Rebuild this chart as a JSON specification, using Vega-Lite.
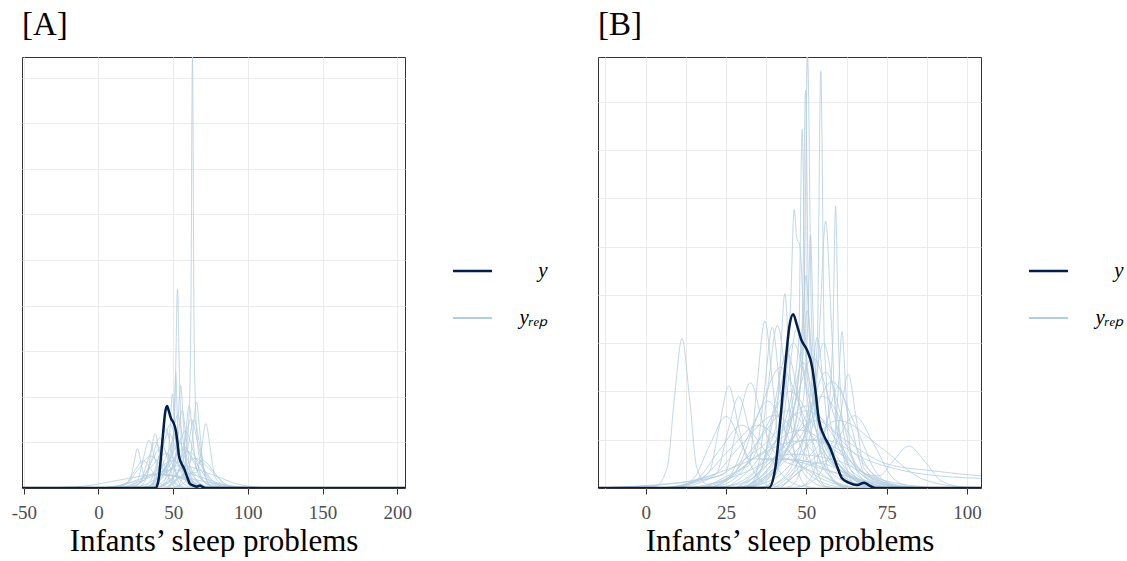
{
  "$schema": "https://vega.github.io/schema/vega-lite/v6.json",
  "padding": {"left": 10, "top": 8, "right": 0, "bottom": 0},
  "spacing": 48,
  "datasets": {
    "obs": [
      {"type": "y", "g": "y",
       "x": [-60,36,38.3,40.4,41.9,43.5,44.7,45.9,47.1,48.5,50.2,51.8,52.8,53.9,55.4,57.5,59.6,61.1,63.2,65.8,68,69.4,71.5,75,210],
       "d": [0,0,0,0.0044,0.0141,0.0258,0.0334,0.036,0.0337,0.0306,0.0286,0.0251,0.0203,0.0141,0.011,0.0082,0.0044,0.002,0.0011,0.0006,0.0011,0.0006,0,0,0]}
    ],
    "repA": [
      {"type": "yrep", "g": "a1", "x": [40,52,58,60.5,61.8,62.9,64,65.3,68,75,88], "d": [0,0.006,0.015,0.03,0.07,0.189,0.07,0.03,0.012,0.004,0]},
      {"type": "yrep", "g": "a2", "x": [35,45,50,51.6,52.9,54.2,56,62,75], "d": [0,0.008,0.02,0.05,0.0872,0.05,0.015,0.005,0]},
      {"type": "yrep", "g": "a3", "x": [33,44,49.5,50.8,51.8,52.8,55,62,72], "d": [0,0.008,0.015,0.03,0.0508,0.03,0.012,0.004,0]},
      {"type": "yrep", "g": "a4", "x": [30,42,46.5,47.8,49.5,51.2,53.5,60,72], "d": [0,0.006,0.012,0.025,0.0413,0.025,0.01,0.003,0]},
      {"type": "yrep", "g": "a5", "x": [40,50,56,58.2,60.7,63.2,65.7,72,82], "d": [0,0.005,0.01,0.022,0.0362,0.022,0.008,0.002,0]},
      {"type": "yrep", "g": "a6", "x": [45,55,61,63.1,65.6,68.1,70.6,77,88], "d": [0,0.005,0.01,0.023,0.0377,0.023,0.008,0.002,0]},
      {"type": "yrep", "g": "a7", "x": [45,58,66,68.9,71.9,74.9,77.9,85,95], "d": [0,0.006,0.007,0.017,0.0283,0.017,0.005,0.001,0]},
      {"type": "yrep", "g": "a8", "x": [5,18,21.1,23.6,26.1,28.6,31.1,40,55,70], "d": [0,0.002,0.0035,0.0105,0.0173,0.0105,0.004,0.006,0.005,0]},
      {"type": "yrep", "g": "a9", "x": [15,28,31.9,34.9,37.9,40.9,43.9,52,68], "d": [0,0.003,0.004,0.0145,0.0239,0.0145,0.006,0.005,0]},
      {"type": "yrep", "g": "a10", "x": [10,22,25.9,29.9,33.9,37.9,41.9,52,70], "d": [0,0.0025,0.003,0.0127,0.021,0.0127,0.006,0.005,0]},
      {"type": "yrep", "g": "a11", "x": [5,15,25,35,45,55,65,75,85], "d": [0,0.0002,0.002,0.0091,0.015,0.0091,0.002,0.0002,0]},
      {"type": "yrep", "g": "a12", "x": [23,31,39,47,55,63,71,79,87], "d": [0,0.0002,0.0027,0.0121,0.02,0.0121,0.0027,0.0002,0]},
      {"type": "yrep", "g": "a13", "x": [2,14,26,38,50,62,74,86,98], "d": [0,0.0001,0.0016,0.0073,0.012,0.0073,0.0016,0.0001,0]},
      {"type": "yrep", "g": "a14", "x": [34,40,46,52,58,64,70,76,82], "d": [0,0.0003,0.0034,0.0152,0.025,0.0152,0.0034,0.0003,0]},
      {"type": "yrep", "g": "a15", "x": [14,21,28,35,42,49,56,63,70], "d": [0,0.0002,0.0024,0.0109,0.018,0.0109,0.0024,0.0002,0]},
      {"type": "yrep", "g": "a16", "x": [24,33,42,51,60,69,78,87,96], "d": [0,0.0002,0.0022,0.0097,0.016,0.0097,0.0022,0.0002,0]},
      {"type": "yrep", "g": "a17", "x": [3,11,19,27,35,43,51,59,67], "d": [0,0.0002,0.0019,0.0085,0.014,0.0085,0.0019,0.0002,0]},
      {"type": "yrep", "g": "a18", "x": [28,33,38,43,48,53,58,63,68], "d": [0,0.0003,0.0038,0.017,0.028,0.017,0.0038,0.0003,0]},
      {"type": "yrep", "g": "a19", "x": [37,41,45,49,53,57,61,65,69], "d": [0,0.0004,0.0043,0.0194,0.032,0.0194,0.0043,0.0004,0]},
      {"type": "yrep", "g": "a20", "x": [-50,-35,-10,15,40,65,90,115,140], "d": [0,0.0001,0.0008,0.0036,0.006,0.0036,0.0008,0.0001,0]},
      {"type": "yrep", "g": "a21", "x": [25,35,45,55,65,75,85,95,105], "d": [0,0.0001,0.0018,0.0079,0.013,0.0079,0.0018,0.0001,0]},
      {"type": "yrep", "g": "a22", "x": [6,12,18,24,30,36,42,48,54], "d": [0,0.0001,0.0016,0.0073,0.012,0.0073,0.0016,0.0001,0]},
      {"type": "yrep", "g": "a23", "x": [44,47,50,53,56,59,62,65,68], "d": [0,0.0004,0.0046,0.0206,0.034,0.0206,0.0046,0.0004,0]},
      {"type": "yrep", "g": "a24", "x": [29,33,37,41,45,49,53,57,61], "d": [0,0.0003,0.0035,0.0158,0.026,0.0158,0.0035,0.0003,0]},
      {"type": "yrep", "g": "a25", "x": [42,49,56,63,70,77,84,91,98], "d": [0,0.0001,0.0016,0.0073,0.012,0.0073,0.0016,0.0001,0]},
      {"type": "yrep", "g": "a26", "x": [-22,-4,14,32,50,68,86,104,122], "d": [0,0.0001,0.0011,0.0049,0.008,0.0049,0.0011,0.0001,0]},
      {"type": "yrep", "g": "a27", "x": [42,47,52,57,62,67,72,77,82], "d": [0,0.0003,0.0041,0.0182,0.03,0.0182,0.0041,0.0003,0]},
      {"type": "yrep", "g": "a28", "x": [24,31,38,45,52,59,66,73,80], "d": [0,0.0002,0.003,0.0134,0.022,0.0134,0.003,0.0002,0]},
      {"type": "yrep", "g": "a29", "x": [7,19,31,43,55,75,95,115,135], "d": [0,0.0001,0.0014,0.0061,0.01,0.0061,0.0014,0.0001,0]},
      {"type": "yrep", "g": "a30", "x": [18,23,28,33,38,43,48,53,58], "d": [0,0.0002,0.0027,0.0121,0.02,0.0121,0.0027,0.0002,0]},
      {"type": "yrep", "g": "a31", "x": [23,29,35,41,47,53,59,65,71], "d": [0,0.0003,0.0032,0.0146,0.024,0.0146,0.0032,0.0003,0]},
      {"type": "yrep", "g": "a32", "x": [21,30,39,48,57,66,75,84,93], "d": [0,0.0002,0.0023,0.0103,0.017,0.0103,0.0023,0.0002,0]},
      {"type": "yrep", "g": "a33", "x": [48,52,56,60,64,68,72,76,80], "d": [0,0.0003,0.0041,0.0182,0.03,0.0182,0.0041,0.0003,0]},
      {"type": "yrep", "g": "a34", "x": [21,26,31,36,41,46,51,56,61], "d": [0,0.0002,0.003,0.0134,0.022,0.0134,0.003,0.0002,0]},
      {"type": "yrep", "g": "a35", "x": [35,45,51.5,53,55,57,58.5,65,75], "d": [0,0.006,0.012,0.027,0.045,0.027,0.012,0.004,0]}
    ],
    "repB": [
      {"type": "yrep", "g": "b1", "x": [-15,3,6.7,9,11.3,13.6,15.9,19,30,45,58,72,90], "d": [0,0.0003,0.0042,0.019,0.031,0.019,0.0042,0.0008,0.003,0.007,0.006,0.002,0]},
      {"type": "yrep", "g": "b2", "x": [30,42,47,49.2,50.4,51.6,54,60,72], "d": [0,0.006,0.015,0.035,0.0893,0.035,0.014,0.006,0]},
      {"type": "yrep", "g": "b3", "x": [32,45,51,53.4,54.5,55.6,58,65,78], "d": [0,0.008,0.015,0.03,0.0864,0.03,0.012,0.004,0]},
      {"type": "yrep", "g": "b4", "x": [30,40,46,48.7,49.75,50.8,53,60,75], "d": [0,0.006,0.016,0.033,0.0824,0.033,0.016,0.005,0]},
      {"type": "yrep", "g": "b5", "x": [28,38,45,47.6,48.7,49.8,52,58,70], "d": [0,0.007,0.018,0.03,0.0743,0.03,0.018,0.007,0]},
      {"type": "yrep", "g": "b6", "x": [28,38,43,45.2,46.2,47,48,49.5,53,60,72], "d": [0,0.006,0.018,0.04,0.0577,0.052,0.05,0.03,0.012,0.004,0]},
      {"type": "yrep", "g": "b7", "x": [40,50,56,58.2,59.1,60,62,68,80], "d": [0,0.006,0.012,0.03,0.0584,0.03,0.01,0.003,0]},
      {"type": "yrep", "g": "b8", "x": [38,48,52.5,54.2,56,57.8,59.5,65,76], "d": [0,0.006,0.015,0.034,0.0553,0.034,0.012,0.003,0]},
      {"type": "yrep", "g": "b9", "x": [32,44,49,50.5,51.3,52.1,54,60,72], "d": [0,0.008,0.018,0.035,0.0524,0.035,0.015,0.005,0]},
      {"type": "yrep", "g": "b10", "x": [30,42,47,49,49.9,50.8,53,59,70], "d": [0,0.008,0.02,0.035,0.044,0.035,0.018,0.006,0]},
      {"type": "yrep", "g": "b11", "x": [25,35,40.3,41.8,43.3,44.8,46.5,53,65], "d": [0,0.006,0.012,0.025,0.0403,0.025,0.012,0.004,0]},
      {"type": "yrep", "g": "b12", "x": [18,30,32.1,34.6,37.1,39.6,42.1,50,62], "d": [0,0.004,0.0047,0.021,0.0346,0.021,0.006,0.004,0]},
      {"type": "yrep", "g": "b13", "x": [42,52,58.6,59.9,61.1,62.3,64,70,80], "d": [0,0.006,0.01,0.02,0.0324,0.02,0.007,0.002,0]},
      {"type": "yrep", "g": "b14", "x": [30,40,46.3,48.3,50.3,52.3,54.3,62,72], "d": [0,0.005,0.012,0.022,0.0367,0.022,0.008,0.003,0]},
      {"type": "yrep", "g": "b15", "x": [33,44,49,51.2,53.4,55.6,57.8,65,75], "d": [0,0.006,0.01,0.019,0.0312,0.019,0.006,0.002,0]},
      {"type": "yrep", "g": "b16", "x": [20,30,34.4,36.9,39.4,41.9,44.4,52,65], "d": [0,0.004,0.0075,0.02,0.0333,0.02,0.008,0.003,0]},
      {"type": "yrep", "g": "b17", "x": [42,52,58,60.5,63,65.5,68,75,85], "d": [0,0.005,0.006,0.0145,0.0236,0.0145,0.004,0.001,0]},
      {"type": "yrep", "g": "b18", "x": [5,17,19.9,22.9,25.9,28.9,31.9,40,55,70], "d": [0,0.002,0.0035,0.0128,0.0211,0.0128,0.006,0.006,0.005,0]},
      {"type": "yrep", "g": "b19", "x": [8,18,22,25.5,29,32.5,36,45,60,75], "d": [0,0.002,0.003,0.0115,0.0189,0.0115,0.006,0.006,0.003,0]},
      {"type": "yrep", "g": "b20", "x": [8,20,24.6,28.6,32.6,36.6,40.6,50,65,80], "d": [0,0.002,0.003,0.0132,0.0218,0.0132,0.007,0.005,0.002,0]},
      {"type": "yrep", "g": "b21", "x": [30,40,50,60,68,72.5,76.9,81.9,86.9,91.9,100], "d": [0,0.006,0.01,0.008,0.003,0.0025,0.0055,0.0087,0.0055,0.0015,0]},
      {"type": "yrep", "g": "b22", "x": [13,21,29,37,45,53,61,69,77], "d": [0,0.0002,0.0027,0.0121,0.02,0.0121,0.0027,0.0002,0]},
      {"type": "yrep", "g": "b23", "x": [14,23,32,41,50,59,68,77,86], "d": [0,0.0002,0.0023,0.0103,0.017,0.0103,0.0023,0.0002,0]},
      {"type": "yrep", "g": "b24", "x": [0,10,20,30,40,50,60,70,80], "d": [0,0.0002,0.002,0.0091,0.015,0.0091,0.002,0.0002,0]},
      {"type": "yrep", "g": "b25", "x": [23,31,39,47,55,63,71,79,87], "d": [0,0.0002,0.0026,0.0115,0.019,0.0115,0.0026,0.0002,0]},
      {"type": "yrep", "g": "b26", "x": [0,12,24,36,48,60,72,84,96], "d": [0,0.0001,0.0016,0.0073,0.012,0.0073,0.0016,0.0001,0]},
      {"type": "yrep", "g": "b27", "x": [14,21,28,35,42,49,56,63,70], "d": [0,0.0003,0.0034,0.0152,0.025,0.0152,0.0034,0.0003,0]},
      {"type": "yrep", "g": "b28", "x": [30,37,44,51,58,65,72,79,86], "d": [0,0.0002,0.003,0.0134,0.022,0.0134,0.003,0.0002,0]},
      {"type": "yrep", "g": "b29", "x": [-1,8,17,26,35,44,53,62,71], "d": [0,0.0001,0.0018,0.0079,0.013,0.0079,0.0018,0.0001,0]},
      {"type": "yrep", "g": "b30", "x": [28,34,40,46,52,58,64,70,76], "d": [0,0.0003,0.0036,0.0164,0.027,0.0164,0.0036,0.0003,0]},
      {"type": "yrep", "g": "b31", "x": [26,31,36,41,46,51,56,61,66], "d": [0,0.0003,0.0041,0.0182,0.03,0.0182,0.0041,0.0003,0]},
      {"type": "yrep", "g": "b32", "x": [20,30,40,50,60,73,86,99,104.4], "d": [0,0.0002,0.0019,0.0085,0.014,0.0085,0.0019,0.0002,0.0001]},
      {"type": "yrep", "g": "b33", "x": [-15,10,30,45,55,70,85,104.4], "d": [0,0.001,0.005,0.0095,0.01,0.0055,0.003,0.002]},
      {"type": "yrep", "g": "b34", "x": [-15,20,35,50,62,75,90,104.4], "d": [0,0.002,0.008,0.016,0.01,0.005,0.0035,0.0025]},
      {"type": "yrep", "g": "b35", "x": [28,32,36,40,44,48,52,56,60], "d": [0,0.0003,0.0038,0.017,0.028,0.017,0.0038,0.0003,0]},
      {"type": "yrep", "g": "b36", "x": [36,41,46,51,56,61,66,71,76], "d": [0,0.0003,0.0032,0.0146,0.024,0.0146,0.0032,0.0003,0]},
      {"type": "yrep", "g": "b37", "x": [14,20,26,32,38,44,50,56,62], "d": [0,0.0002,0.0024,0.0109,0.018,0.0109,0.0024,0.0002,0]},
      {"type": "yrep", "g": "b38", "x": [41,47,53,59,65,71,77,83,89], "d": [0,0.0002,0.002,0.0091,0.015,0.0091,0.002,0.0002,0]},
      {"type": "yrep", "g": "b39", "x": [35,38,41,44,47,50,53,56,59], "d": [0,0.0004,0.0045,0.02,0.033,0.02,0.0045,0.0004,0]},
      {"type": "yrep", "g": "b40", "x": [29,32,35,38,41,44,47,50,53], "d": [0,0.0004,0.0045,0.0205,0.0337,0.0205,0.0045,0.0004,0]},
      {"type": "yrep", "g": "b41", "x": [41.4,44.9,48.4,51.9,55.4,58.9,62.4,65.9,69.4], "d": [0,0.0003,0.0041,0.0182,0.03,0.0182,0.0041,0.0003,0]},
      {"type": "yrep", "g": "b42", "x": [5,10,15,20,25,30,35,40,45], "d": [0,0.0002,0.002,0.009,0.0148,0.009,0.002,0.0002,0]},
      {"type": "yrep", "g": "b43", "x": [2,9,16,23,30,37,44,51,58], "d": [0,0.0001,0.0018,0.0079,0.013,0.0079,0.0018,0.0001,0]},
      {"type": "yrep", "g": "b44", "x": [8,17,26,35,44,53,62,71,80], "d": [0,0.0002,0.0022,0.0097,0.016,0.0097,0.0022,0.0002,0]},
      {"type": "yrep", "g": "b45", "x": [13,23,33,43,53,63,73,83,93], "d": [0,0.0002,0.0019,0.0085,0.014,0.0085,0.0019,0.0002,0]},
      {"type": "yrep", "g": "b46", "x": [33,37,41,45,49,53,57,61,65], "d": [0,0.0003,0.0035,0.0158,0.026,0.0158,0.0035,0.0003,0]},
      {"type": "yrep", "g": "b47", "x": [44,48,52,56,60,64,68,72,76], "d": [0,0.0002,0.0028,0.0127,0.021,0.0127,0.0028,0.0002,0]}
    ]
  },
  "hconcat": [
    {
      "width": 383,
      "height": 431,
      "title": {"text": "[A]"},
      "layer": [
        {
          "data": {"name": "repA"},
          "transform": [{"flatten": ["x", "d"]}],
          "mark": {"type": "line", "interpolate": "monotone", "strokeWidth": 1, "opacity": 0.8, "clip": true},
          "encoding": {
            "x": {"field": "x", "type": "quantitative", "title": "Infants’ sleep problems",
                  "scale": {"domain": [-51.2, 205.2], "nice": false, "zero": false},
                  "axis": {"values": [-50,-25,0,25,50,75,100,125,150,175,200],
                           "labelExpr": "datum.value % 50 === 0 ? '' + datum.value : ''",
                           "tickOpacity": {"condition": {"test": "datum.value % 50 !== 0", "value": 0}, "value": 1},
                           "labelOverlap": false, "labelFlush": false}},
            "y": {"field": "d", "type": "quantitative",
                  "scale": {"domain": [0, 0.189], "nice": false, "zero": false},
                  "axis": {"values": [0.02,0.04,0.06,0.08,0.1,0.12,0.14,0.16,0.18], "labels": false, "ticks": false, "domain": false, "title": null}},
            "color": {"field": "type", "type": "nominal",
                      "scale": {"domain": ["y", "yrep"], "range": ["#011f4b", "#b3cde0"]},
                      "legend": {"orient": "none", "legendX": 440, "legendY": 203.5, "title": null,
                                 "symbolType": "stroke", "symbolSize": 1521, "symbolStrokeWidth": 2.5, "symbolOpacity": 1,
                                 "labelFont": "Liberation Serif", "labelFontSize": 21, "labelFontStyle": "italic", "labelColor": "#000000",
                                 "labelOffset": 64.5, "rowPadding": 25, "labelAlign": "right",
                                 "labelExpr": "datum.label === 'y' ? 'y' : 'y\u1d63\u2091\u209a'",
                                 "encode": {"symbols": {"update": {"strokeWidth": {"signal": "datum.value === 'y' ? 2.7 : 2.2"}, "opacity": {"value": 1}}}}}},
            "detail": {"field": "g"}
          }
        },
        {
          "data": {"name": "obs"},
          "transform": [{"flatten": ["x", "d"]}],
          "mark": {"type": "line", "interpolate": "monotone", "strokeWidth": 2.5, "clip": true},
          "encoding": {
            "x": {"field": "x", "type": "quantitative"},
            "y": {"field": "d", "type": "quantitative"},
            "color": {"field": "type", "type": "nominal"}
          }
        }
      ]
    },
    {
      "width": 383,
      "height": 431,
      "title": {"text": "[B]"},
      "layer": [
        {
          "data": {"name": "repB"},
          "transform": [{"flatten": ["x", "d"]}],
          "mark": {"type": "line", "interpolate": "monotone", "strokeWidth": 1, "opacity": 0.8, "clip": true},
          "encoding": {
            "x": {"field": "x", "type": "quantitative", "title": "Infants’ sleep problems",
                  "scale": {"domain": [-14.83, 104.35], "nice": false, "zero": false},
                  "axis": {"values": [-12.5,0,12.5,25,37.5,50,62.5,75,87.5,100],
                           "labelExpr": "datum.value % 25 === 0 ? '' + datum.value : ''",
                           "tickOpacity": {"condition": {"test": "datum.value % 25 !== 0", "value": 0}, "value": 1},
                           "labelOverlap": false, "labelFlush": false}},
            "y": {"field": "d", "type": "quantitative",
                  "scale": {"domain": [0, 0.0893], "nice": false, "zero": false},
                  "axis": {"values": [0.01,0.02,0.03,0.04,0.05,0.06,0.07,0.08], "labels": false, "ticks": false, "domain": false, "title": null}},
            "color": {"field": "type", "type": "nominal",
                      "scale": {"domain": ["y", "yrep"], "range": ["#011f4b", "#b3cde0"]},
                      "legend": {"orient": "none", "legendX": 440, "legendY": 203.5, "title": null,
                                 "symbolType": "stroke", "symbolSize": 1521, "symbolStrokeWidth": 2.5, "symbolOpacity": 1,
                                 "labelFont": "Liberation Serif", "labelFontSize": 21, "labelFontStyle": "italic", "labelColor": "#000000",
                                 "labelOffset": 64.5, "rowPadding": 25, "labelAlign": "right",
                                 "labelExpr": "datum.label === 'y' ? 'y' : 'y\u1d63\u2091\u209a'",
                                 "encode": {"symbols": {"update": {"strokeWidth": {"signal": "datum.value === 'y' ? 2.7 : 2.2"}, "opacity": {"value": 1}}}}}},
            "detail": {"field": "g"}
          }
        },
        {
          "data": {"name": "obs"},
          "transform": [{"flatten": ["x", "d"]}],
          "mark": {"type": "line", "interpolate": "monotone", "strokeWidth": 2.5, "clip": true},
          "encoding": {
            "x": {"field": "x", "type": "quantitative"},
            "y": {"field": "d", "type": "quantitative"},
            "color": {"field": "type", "type": "nominal"}
          }
        }
      ]
    }
  ],
  "resolve": {"scale": {"color": "independent"}, "legend": {"color": "independent"}},
  "config": {
    "font": "Liberation Serif",
    "background": "#ffffff",
    "view": {"stroke": "#333333", "strokeWidth": 1},
    "axis": {"gridColor": "#ebebeb", "gridWidth": 1, "domain": false,
             "labelFont": "Liberation Serif", "labelFontSize": 19, "labelColor": "#4d4d4d", "labelPadding": 9,
             "tickColor": "#333333", "tickSize": 6, "tickWidth": 1,
             "titleFont": "Liberation Serif", "titleFontSize": 31, "titleFontWeight": "normal", "titleColor": "#000000", "titlePadding": 4},
    "title": {"font": "Liberation Serif", "fontSize": 33, "fontWeight": "normal", "anchor": "start", "frame": "group", "color": "#000000", "baseline": "alphabetic", "offset": 15.5}
  }
}
